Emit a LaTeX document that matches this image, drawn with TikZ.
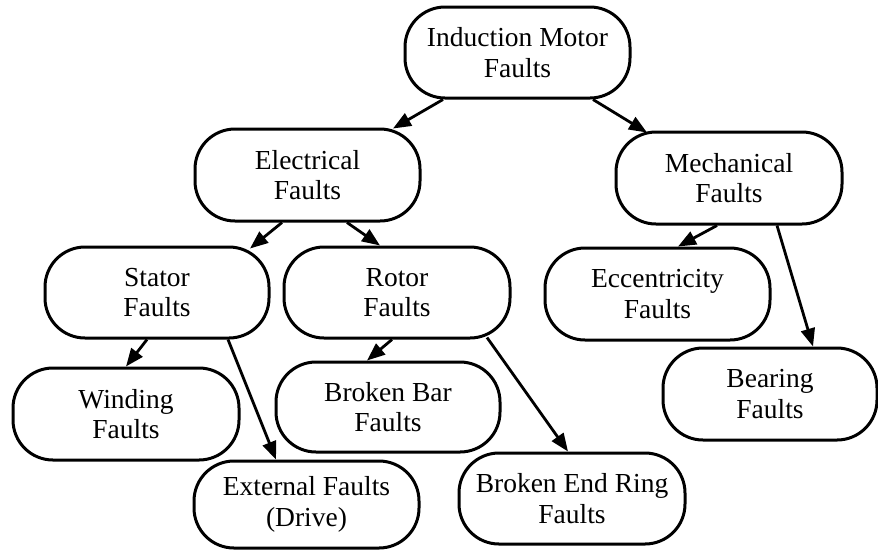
\documentclass[tikz,border=0pt]{standalone}
\usepackage{fontspec}
\setmainfont{Liberation Serif}
\usetikzlibrary{arrows.meta}
\begin{document}
\begin{tikzpicture}[x=1pt,y=-1pt,
  box/.style={draw,line width=3pt,rounded corners=40pt,align=center,
    font=\fontsize{27.5}{30.5}\selectfont,inner sep=0pt,
    minimum width=225pt,minimum height=91pt},
  conn/.style={line width=2.8pt,-{Triangle[length=18pt,width=14pt]}}]
\useasboundingbox (0,0) rectangle (878,550);
\node[box] (imf) at (517.5,52.5) {Induction Motor\\Faults};
\node[box,minimum height=92pt] (el) at (307.5,175) {Electrical\\Faults};
\node[box,minimum width=226pt,minimum height=92pt] (me) at (729,178) {Mechanical\\Faults};
\node[box,minimum width=224pt] (st) at (157,292.5) {Stator\\Faults};
\node[box,minimum width=226pt] (ro) at (397,292.5) {Rotor\\Faults};
\node[box,minimum height=92pt] (ec) at (657.5,294) {Eccentricity\\Faults};
\node[box,minimum width=214pt,minimum height=92pt] (be) at (770,394) {Bearing\\Faults};
\node[box,minimum width=226pt,minimum height=92pt] (wi) at (126,414) {Winding\\Faults};
\node[box,minimum width=224pt,minimum height=90pt] (bb) at (388,407) {Broken Bar\\Faults};
\node[box,minimum height=87pt] (ex) at (306.5,504.5) {External Faults\\(Drive)};
\node[box,minimum width=226pt] (ber) at (572,498.5) {Broken End Ring\\Faults};

\draw[conn] ([xshift=-74.5pt]imf.south) -- ([xshift=85.5pt,yshift=-1pt]el.north);
\draw[conn] ([xshift=75.5pt]imf.south) -- ([xshift=-82pt,yshift=-2pt]me.north);
\draw[conn] ([xshift=-25.5pt]el.south) -- ([xshift=93pt,yshift=-3pt]st.north);
\draw[conn] ([xshift=39.5pt]el.south) -- ([xshift=-17pt]ro.north);
\draw[conn] ([xshift=-12pt]me.south) -- ([xshift=20.5pt]ec.north);
\draw[conn] ([xshift=48pt]me.south) -- ([xshift=43pt]be.north);
\draw[conn] ([xshift=-10pt]st.south) -- ([xshift=0pt]wi.north);
\draw[conn] ([xshift=71pt]st.south) -- ([xshift=-30.5pt]ex.north);
\draw[conn] ([xshift=-5pt]ro.south) -- ([xshift=-21pt]bb.north);
\draw[conn] ([xshift=90pt,yshift=2pt]ro.south) -- ([xshift=-4pt]ber.north);
\end{tikzpicture}
\end{document}
